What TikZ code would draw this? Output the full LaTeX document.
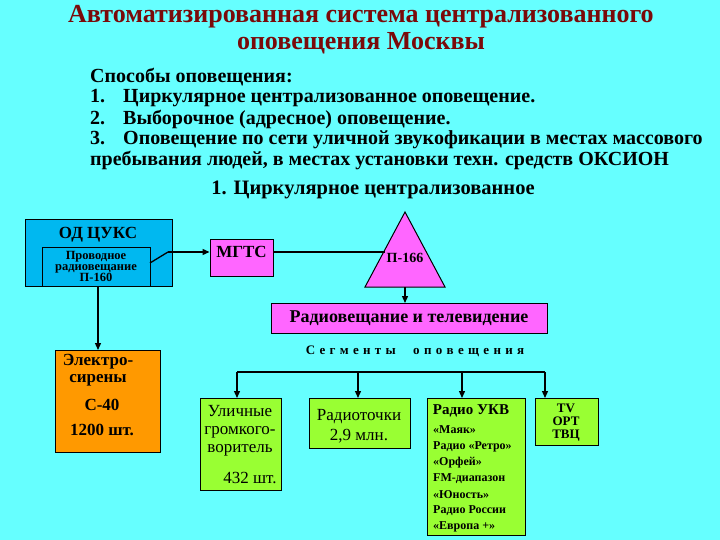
\documentclass[tikz,border=0pt]{standalone}
\usepackage{fontspec}
\setmainfont{Liberation Serif}
\usetikzlibrary{arrows.meta}
\definecolor{bg}{HTML}{66FFFF}
\definecolor{cuks}{HTML}{00B8F0}
\definecolor{mag}{HTML}{FF66FF}
\definecolor{grn}{HTML}{99FF33}
\definecolor{org}{HTML}{FF9900}
\definecolor{ttl}{HTML}{7A0A0A}
\begin{document}
\begin{tikzpicture}[x=1pt,y=-1pt,font=\bfseries,
  box/.style={draw=black,line width=1pt},
  lbl/.style={inner sep=0pt,font=\bfseries\fontsize{17}{17}\selectfont},
  arr/.style={-{Triangle[length=7pt,width=6pt]},line width=1.3pt},
  ln/.style={line width=1.3pt}]
\fill[bg] (0,0) rectangle (720,540);
\useasboundingbox (0,0) rectangle (720,540);
\node[inner sep=0pt,text=ttl,font=\bfseries\fontsize{26}{26}\selectfont] (t1) at (361,17) {Автоматизированная система централизованного};
\node[inner sep=0pt,text=ttl,font=\bfseries\fontsize{26}{26}\selectfont] (t2) at (361,43) {оповещения Москвы};
\begin{scope}[every node/.style={anchor=west,inner sep=0pt,font=\bfseries\fontsize{20}{20}\selectfont}]
\node (s0) at (90,77) {Способы оповещения:};
\node (s1) at (90,98) {1.\hspace{18pt}Циркулярное централизованное оповещение.};
\node (s2) at (90,119) {2.\hspace{18pt}Выборочное (адресное) оповещение.};
\node (s3) at (90,140) {3.\hspace{18pt}Оповещение по сети уличной звукофикации в местах массового};
\node (s4) at (90,161) {пребывания людей, в местах установки техн. средств ОКСИОН};
\end{scope}
\node[inner sep=0pt,font=\bfseries\fontsize{20.5}{20}\selectfont] (h1) at (373,190) {1. Циркулярное централизованное};
% OD CUKS
\draw[box,fill=cuks] (25,220) rectangle (172,286);
\node[lbl] (od) at (98,235) {ОД ЦУКС};
\draw[box,fill=cuks] (42,247) rectangle (150,286);
\node[inner sep=0pt,align=center,font=\bfseries\fontsize{12.5}{11}\selectfont] (pr) at (96,266) {Проводное\\радиовещание\\П-160};
\coordinate (prr) at (150,263);
% MGTS
\node[box,fill=mag,minimum width=63pt,minimum height=37pt,font=\bfseries\fontsize{17}{17}\selectfont] (mgts) at (241.5,258) {};
\node[inner sep=0pt,font=\bfseries\fontsize{17}{17}\selectfont] (mg) at (241.5,252) {МГТС};
\draw[ln] (prr) -- (168,252);
\draw[arr] (168,252) -- (mgts.west |- 0,252);
% triangle
\draw[box,fill=mag] (405,212) -- (445,287) -- (365,287) -- cycle;
\node[inner sep=0pt,font=\bfseries\fontsize{14}{14}\selectfont] (p166) at (405,258) {П-166};
\draw[ln] (mgts.east |- 0,252) -- (385,252);
\node[box,fill=mag,minimum width=276pt,minimum height=30pt,font=\bfseries\fontsize{18}{18}\selectfont] (rtv) at (409,318) {Радиовещание и телевидение};
\draw[arr] (405,287) -- (405,303);
\node[inner sep=0pt,font=\bfseries\fontsize{13}{13}\selectfont] (seg) at (415,351) {С\,\,е\,\,г\,\,м\,\,е\,\,н\,\,т\,\,ы\quad\,\,о\,\,п\,\,о\,\,в\,\,е\,\,щ\,\,е\,\,н\,\,и\,\,я};
% sirens
\draw[box,fill=org] (55,350) rectangle (160,452);
\node[lbl] (el1) at (98,362) {Электро-};
\node[lbl] (el2) at (98,380) {сирены};
\node[lbl] (el3) at (102,405) {С-40};
\node[lbl] (el4) at (102,430) {1200 шт.};
\draw[arr] (98,286) -- (98,350);
% green boxes
\draw[box,fill=grn] (200,398) rectangle (281,490);
\node[lbl,align=center,font=\fontsize{17}{18}\selectfont] (ul) at (240,431) {Уличные\\громкого-\\воритель};
\node[lbl,font=\fontsize{17}{17}\selectfont] (ul2) at (250,478) {432 шт.};
\draw[box,fill=grn] (309,398) rectangle (410,448);
\node[lbl,align=center,font=\fontsize{17}{20}\selectfont] (rt) at (359,426) {Радиоточки\\2,9 млн.};
\draw[box,fill=grn] (427,398) rectangle (525,535);
\node[inner sep=0pt,font=\bfseries\fontsize{15}{15}\selectfont] (ukv) at (471,411) {Радио УКВ};
\begin{scope}[every node/.style={anchor=west,inner sep=0pt,font=\bfseries\fontsize{12}{12}\selectfont}]
\node (u1) at (433,430) {«Маяк»};
\node (u2) at (433,447) {Радио «Ретро»};
\node (u3) at (433,463) {«Орфей»};
\node (u4) at (433,479) {FM-диапазон};
\node (u5) at (433,495) {«Юность»};
\node (u6) at (433,511) {Радио России};
\node (u7) at (433,527) {«Европа +»};
\end{scope}
\draw[box,fill=grn] (535,398) rectangle (598,445);
\node[inner sep=0pt,align=center,font=\bfseries\fontsize{13}{13}\selectfont] (tv) at (566,423) {TV\\ОРТ\\ТВЦ};
% distribution
\draw[ln] (237,372) -- (545,372);
\draw[arr] (237,372) -- (237,398);
\draw[arr] (358,372) -- (358,398);
\draw[arr] (462,372) -- (462,398);
\draw[arr] (545,372) -- (545,398);
\end{tikzpicture}
\end{document}
